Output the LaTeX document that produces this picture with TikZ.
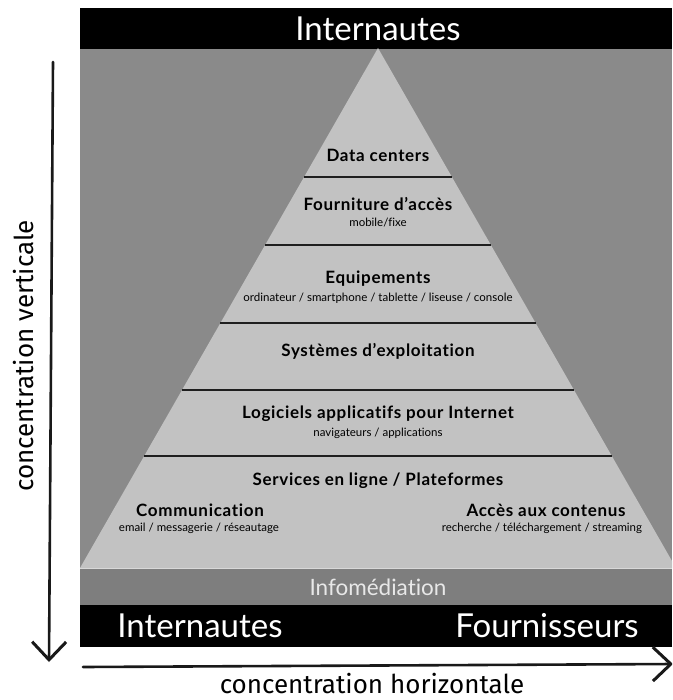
\documentclass[tikz,border=0pt]{standalone}
\usepackage{fontspec}
\setmainfont{Lato}[Ligatures={NoCommon}]
\newfontfamily\handfont{Fira Sans}
\usetikzlibrary{calc,arrows.meta}
\definecolor{bggray}{HTML}{8A8A8A}
\definecolor{pyrgray}{HTML}{C2C2C2}
\definecolor{infogray}{HTML}{7E7E7E}
\definecolor{infotext}{HTML}{E8E8E8}
\definecolor{sepline}{HTML}{1E1E1E}
\tikzset{
  bigtitle/.style={text=white, inner sep=0pt, font=\fontsize{33}{33}\selectfont},
  layer/.style={text=black, inner sep=0pt, font=\fontsize{17}{17}\selectfont\bfseries\addfontfeature{LetterSpace=4}},
  sublabel/.style={text=black, inner sep=0pt, font=\fontsize{11.5}{11.5}\selectfont},
  infolabel/.style={text=infotext, inner sep=0pt, font=\fontsize{22.5}{22.5}\selectfont},
  handlabel/.style={text=black, inner sep=0pt, font=\handfont\fontsize{26}{26}\selectfont},
  sep/.style={draw=sepline, line width=2.3pt},
  axis/.style={draw=black!90, line width=2.6pt, line cap=round,
    -{Straight Barb[length=18pt,width=34pt,line width=3pt]}}
}
\begin{document}
\begin{tikzpicture}[x=1pt,y=-1pt]
\useasboundingbox (0,0) rectangle (672,700);
\begin{scope}
\clip (0,0) rectangle (672,700);
% top bar
\fill[black] (80,8) rectangle (672,49);
\node[bigtitle] (topnet) at (378,29) {Internautes};
% gray background
\fill[bggray] (80,49) rectangle (672,568);
% pyramid
\coordinate (apex) at (378,48);
\coordinate (bl) at (80,568);
\coordinate (br) at (676,568);
\fill[pyrgray] (apex) -- (bl) -- (br) -- cycle;
% separators
\foreach \f in {0.248,0.379,0.529,0.658,0.785}{
  \draw[sep] ($(apex)!\f!(bl)$) -- ($(apex)!\f!(br)$);
}
% labels
\node[layer] (dc) at (378,155) {Data centers};
\node[layer] (fa) at (378,204) {Fourniture d’accès};
\node[sublabel] (fas) at (378,223) {mobile/fixe};
\node[layer] (eq) at (378,279) {Equipements};
\node[sublabel] (eqs) at (378,298) {ordinateur / smartphone / tablette / liseuse / console};
\node[layer] (se) at (378,351) {Systèmes d’exploitation};
\node[layer] (lo) at (378,414) {Logiciels applicatifs pour Internet};
\node[sublabel] (los) at (378,433) {navigateurs / applications};
\node[layer] (sv) at (378,481) {Services en ligne / Plateformes};
\node[layer] (co) at (200,510) {Communication};
\node[sublabel] (cos) at (199,528) {email / messagerie / réseautage};
\node[layer] (ac) at (546,510) {Accès aux contenus};
\node[sublabel] (acs) at (542,528) {recherche / téléchargement / streaming};
% infomediation bar
\fill[infogray] (80,568) rectangle (672,605);
\draw[white!70!infogray, line width=0.8pt] (80,568.5) -- (672,568.5);
\node[infolabel] (info) at (378,587) {Infomédiation};
% bottom bar
\fill[black] (80,605) rectangle (672,647);
\node[bigtitle] (botnet) at (200,626) {Internautes};
\node[bigtitle] (fourn) at (547,626) {Fournisseurs};
% axes
\coordinate (vstart) at (53,62);
\coordinate (vend) at (49,662);
\draw[axis] (vstart) -- (vend);
\coordinate (hstart) at (83,667);
\coordinate (hend) at (673,664);
\draw[axis] (hstart) -- (hend);
\node[handlabel, rotate=90, anchor=base] (vlab) at (33,356) {concentration verticale};
\node[handlabel, anchor=base] (hlab) at (372,693) {concentration horizontale};
\end{scope}
\end{tikzpicture}
\end{document}
